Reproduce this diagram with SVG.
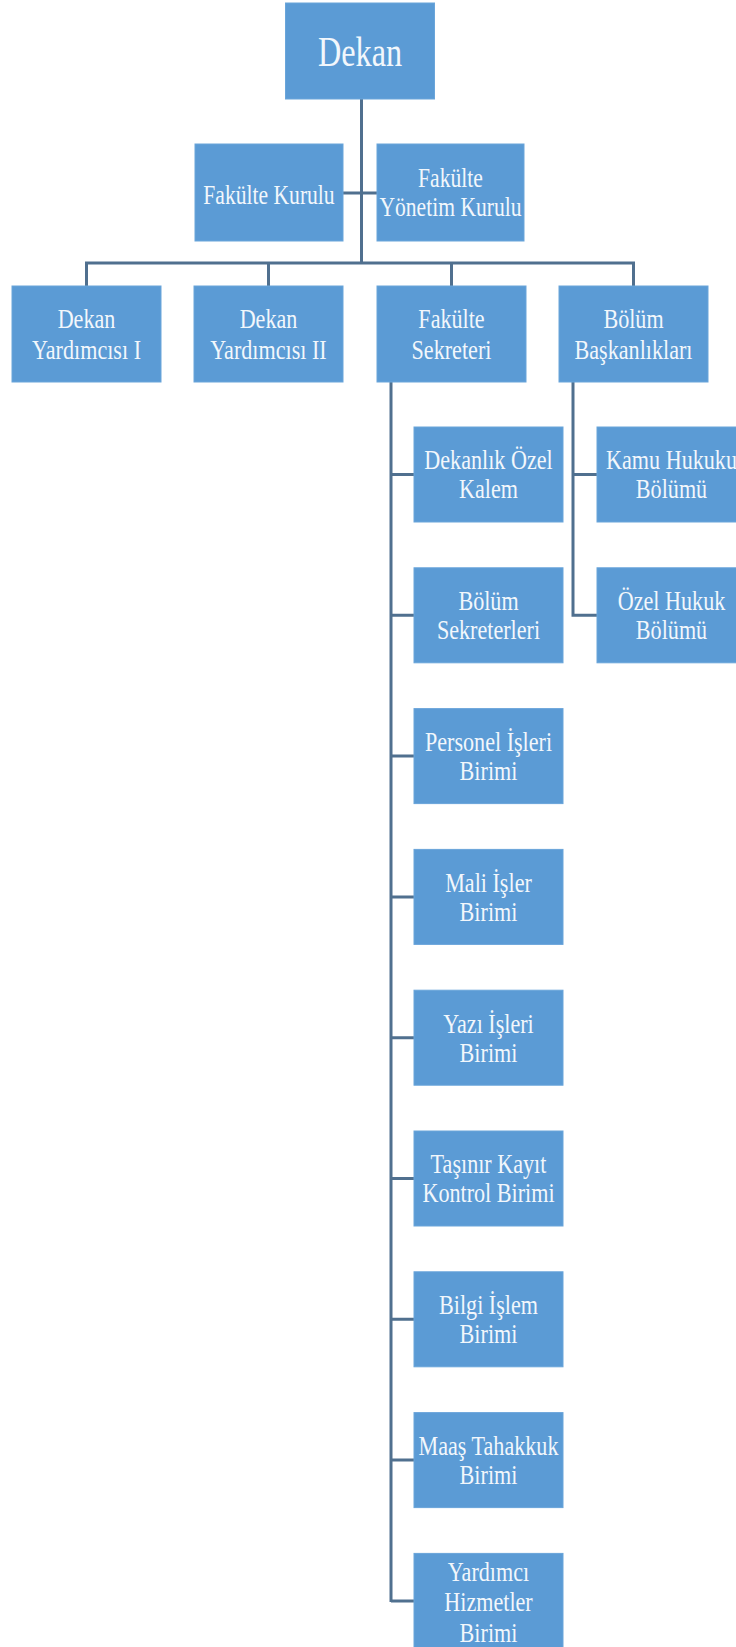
<svg xmlns="http://www.w3.org/2000/svg" width="736" height="1647" viewBox="0 0 736 1647">
<style>
.b{fill:#5b9bd5;stroke:#6aa5da;stroke-width:1}
.t{font-family:"Liberation Serif","Times New Roman",serif;font-size:27px;fill:#f2f7fc;text-anchor:middle}
.c{stroke:#50708f;stroke-width:3;fill:none}
</style>
<rect width="736" height="1647" fill="#ffffff"/>
<g id="connectors">
<path class="c" d="M361.5 99V263M343 193H377M86.5 286V263H633.5V286M268.5 263V286M451.5 263V286"/>
<path class="c" d="M391 382V1602M391 474.5H414M391 615.3H414M391 756.1H414M391 896.9H414M391 1037.7H414M391 1178.5H414M391 1319.3H414M391 1460.1H414M391 1601H414"/>
<path class="c" d="M573 382V615.3H597M573 474.5H597"/>
</g>
<g id="dekan"><rect class="b" x="285.5" y="3" width="149" height="96"/><text class="t" style="font-size:43px" transform="translate(360,0) scale(0.75,1)"><tspan x="0" y="66">Dekan</tspan></text></g>
<g id="fakulte-kurulu"><rect class="b" x="195" y="144" width="148" height="97"/><text class="t" transform="translate(269,0) scale(0.8,1)"><tspan x="0" y="204">Fakülte Kurulu</tspan></text></g>
<g id="fakulte-yonetim-kurulu"><rect class="b" x="377" y="144" width="147" height="97"/><text class="t" transform="translate(450.5,0) scale(0.8,1)"><tspan x="0" y="187">Fakülte</tspan><tspan x="0" y="216">Yönetim Kurulu</tspan></text></g>
<g id="dekan-yardimcisi-1"><rect class="b" x="12" y="286" width="149" height="96"/><text class="t" transform="translate(86.5,0) scale(0.82,1)"><tspan x="0" y="328">Dekan</tspan><tspan x="0" y="359">Yardımcısı I</tspan></text></g>
<g id="dekan-yardimcisi-2"><rect class="b" x="194" y="286" width="149" height="96"/><text class="t" transform="translate(268.5,0) scale(0.82,1)"><tspan x="0" y="328">Dekan</tspan><tspan x="0" y="359">Yardımcısı II</tspan></text></g>
<g id="fakulte-sekreteri"><rect class="b" x="377" y="286" width="149" height="96"/><text class="t" transform="translate(451.5,0) scale(0.82,1)"><tspan x="0" y="328">Fakülte</tspan><tspan x="0" y="359">Sekreteri</tspan></text></g>
<g id="bolum-baskanliklari"><rect class="b" x="559" y="286" width="149" height="96"/><text class="t" transform="translate(633.5,0) scale(0.82,1)"><tspan x="0" y="328">Bölüm</tspan><tspan x="0" y="359">Başkanlıkları</tspan></text></g>
<g id="dekanlik-ozel-kalem"><rect class="b" x="414" y="427" width="149" height="95"/><text class="t" transform="translate(488.5,0) scale(0.82,1)"><tspan x="0" y="469.5">Dekanlık Özel</tspan><tspan x="0" y="498.5">Kalem</tspan></text></g>
<g id="bolum-sekreterleri"><rect class="b" x="414" y="567.8" width="149" height="95"/><text class="t" transform="translate(488.5,0) scale(0.82,1)"><tspan x="0" y="610.3">Bölüm</tspan><tspan x="0" y="639.3">Sekreterleri</tspan></text></g>
<g id="personel-isleri"><rect class="b" x="414" y="708.6" width="149" height="95"/><text class="t" transform="translate(488.5,0) scale(0.82,1)"><tspan x="0" y="751.1">Personel İşleri</tspan><tspan x="0" y="780.1">Birimi</tspan></text></g>
<g id="mali-isler"><rect class="b" x="414" y="849.4" width="149" height="95"/><text class="t" transform="translate(488.5,0) scale(0.82,1)"><tspan x="0" y="891.9">Mali İşler</tspan><tspan x="0" y="920.9">Birimi</tspan></text></g>
<g id="yazi-isleri"><rect class="b" x="414" y="990.2" width="149" height="95"/><text class="t" transform="translate(488.5,0) scale(0.82,1)"><tspan x="0" y="1032.7">Yazı İşleri</tspan><tspan x="0" y="1061.7">Birimi</tspan></text></g>
<g id="tasinir-kayit"><rect class="b" x="414" y="1131" width="149" height="95"/><text class="t" transform="translate(488.5,0) scale(0.82,1)"><tspan x="0" y="1173.5">Taşınır Kayıt</tspan><tspan x="0" y="1202.5">Kontrol Birimi</tspan></text></g>
<g id="bilgi-islem"><rect class="b" x="414" y="1271.8" width="149" height="95"/><text class="t" transform="translate(488.5,0) scale(0.82,1)"><tspan x="0" y="1314.3">Bilgi İşlem</tspan><tspan x="0" y="1343.3">Birimi</tspan></text></g>
<g id="maas-tahakkuk"><rect class="b" x="414" y="1412.6" width="149" height="95"/><text class="t" transform="translate(488.5,0) scale(0.82,1)"><tspan x="0" y="1455.1">Maaş Tahakkuk</tspan><tspan x="0" y="1484.1">Birimi</tspan></text></g>
<g id="yardimci-hizmetler"><rect class="b" x="414" y="1553.4" width="149" height="96"/><text class="t" transform="translate(488.5,0) scale(0.82,1)"><tspan x="0" y="1581">Yardımcı</tspan><tspan x="0" y="1611.5">Hizmetler</tspan><tspan x="0" y="1642">Birimi</tspan></text></g>
<g id="kamu-hukuku"><rect class="b" x="597" y="427" width="149" height="95"/><text class="t" transform="translate(671.5,0) scale(0.82,1)"><tspan x="0" y="469.5">Kamu Hukuku</tspan><tspan x="0" y="498.5">Bölümü</tspan></text></g>
<g id="ozel-hukuk"><rect class="b" x="597" y="567.8" width="149" height="95"/><text class="t" transform="translate(671.5,0) scale(0.82,1)"><tspan x="0" y="610.3">Özel Hukuk</tspan><tspan x="0" y="639.3">Bölümü</tspan></text></g>
</svg>
